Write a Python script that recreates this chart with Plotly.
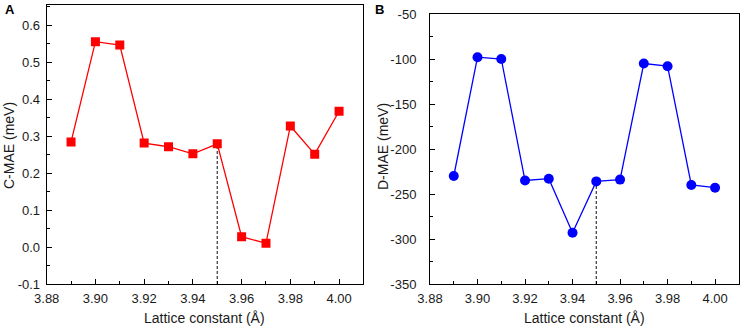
import plotly.graph_objects as go

lattice = [3.89, 3.90, 3.91, 3.92, 3.93, 3.94, 3.95, 3.96, 3.97, 3.98, 3.99, 4.00]
c_mae = [0.284, 0.555, 0.546, 0.281, 0.271, 0.252, 0.279, 0.028, 0.010, 0.327, 0.251, 0.367]
d_mae = [-230, -98, -100, -235, -233, -293, -236, -234, -105, -108, -240, -243]
mark_x = 3.95
mark_idx = lattice.index(mark_x)

x_ticks = [3.88, 3.90, 3.92, 3.94, 3.96, 3.98, 4.00]
x_minor = [3.89, 3.91, 3.93, 3.95, 3.97, 3.99, 4.01]
a_ticks = [-0.1, 0.0, 0.1, 0.2, 0.3, 0.4, 0.5, 0.6]
a_minor = [-0.05, 0.05, 0.15, 0.25, 0.35, 0.45, 0.55, 0.65]
b_ticks = [-350, -300, -250, -200, -150, -100, -50]
b_minor = [-325, -275, -225, -175, -125, -75]

W, H = 741, 328
fig = go.Figure()

fig.add_trace(go.Scatter(x=[mark_x, mark_x], y=[-0.1, c_mae[mark_idx]], mode="lines",
                         line=dict(color="#333333", width=1.2, dash="3px,2px"),
                         xaxis="x", yaxis="y", showlegend=False))
fig.add_trace(go.Scatter(x=lattice, y=c_mae, mode="lines+markers",
                         line=dict(color="#ff0000", width=1.3),
                         marker=dict(symbol="square", size=9, color="#ff0000"),
                         xaxis="x", yaxis="y", showlegend=False))
fig.add_trace(go.Scatter(x=[mark_x, mark_x], y=[-350, d_mae[mark_idx]], mode="lines",
                         line=dict(color="#333333", width=1.2, dash="3px,2px"),
                         xaxis="x2", yaxis="y2", showlegend=False))
fig.add_trace(go.Scatter(x=lattice, y=d_mae, mode="lines+markers",
                         line=dict(color="#0000ff", width=1.3),
                         marker=dict(symbol="circle", size=10, color="#0000ff"),
                         xaxis="x2", yaxis="y2", showlegend=False))

FAM = "Liberation Sans, Arial, sans-serif"
tickfont = dict(family=FAM, size=13, color="#1a1a1a")
titlefont = dict(family=FAM, size=14, color="#1a1a1a")
axcommon = dict(showline=True, linecolor="black", linewidth=1, mirror=True,
                ticks="inside", ticklen=5, tickcolor="black", showgrid=False,
                zeroline=False, tickfont=tickfont, automargin=False)
minor_style = dict(ticks="inside", ticklen=3, tickcolor="black")


def fmt(v, nd):
    return f"{v:.{nd}f}"  # plain hyphen-minus like the reference


xax = dict(tickmode="array", tickvals=x_ticks, ticktext=[fmt(v, 2) for v in x_ticks],
           minor=dict(tickvals=x_minor, **minor_style), ticklabelstandoff=2)

A_x0, A_x1 = 46.7, 362.7
B_x0, B_x1 = 430.0, 739.3
A_top, B_top, BOT = 4.7, 14.0, 284.0

fig.update_layout(
    width=W, height=H, margin=dict(l=0, r=0, t=0, b=0, autoexpand=False),
    plot_bgcolor="white", paper_bgcolor="white", font=tickfont,
    xaxis=dict(domain=[A_x0 / W, A_x1 / W], range=[3.88, 4.0097], anchor="y",
               **xax, **axcommon),
    yaxis=dict(domain=[1 - BOT / H, 1 - A_top / H], range=[-0.1, 0.655], anchor="x",
               tickmode="array", tickvals=a_ticks, ticktext=[fmt(v, 1) for v in a_ticks],
               minor=dict(tickvals=a_minor, **minor_style), ticklabelstandoff=3,
               **axcommon),
    xaxis2=dict(domain=[B_x0 / W, B_x1 / W], range=[3.88, 4.0102], anchor="y2",
                **xax, **axcommon),
    yaxis2=dict(domain=[1 - BOT / H, 1 - B_top / H], range=[-350, -50], anchor="x2",
                tickmode="array", tickvals=b_ticks, ticktext=[fmt(v, 0) for v in b_ticks],
                minor=dict(tickvals=b_minor, **minor_style), ticklabelstandoff=10,
                **axcommon),
)

anns = [
    dict(text="<b>A</b>", x=9.5, y=9),
    dict(text="<b>B</b>", x=380, y=9),
    dict(text="C-MAE (meV)", x=9, y=146, textangle=-90, font=titlefont),
    dict(text="D-MAE (meV)", x=383, y=147, textangle=-90, font=titlefont),
    dict(text="Lattice constant (Å)", x=(A_x0 + A_x1) / 2, y=318, font=titlefont),
    dict(text="Lattice constant (Å)", x=(B_x0 + B_x1) / 2, y=318, font=titlefont),
]
for a in anns:
    font = a.pop("font", dict(family=FAM, size=13, color="black"))
    fig.add_annotation(x=a.pop("x") / W, y=1 - a.pop("y") / H, xref="paper", yref="paper",
                       xanchor="center", yanchor="middle", showarrow=False,
                       font=font, **a)

fig.write_html("out.html")
